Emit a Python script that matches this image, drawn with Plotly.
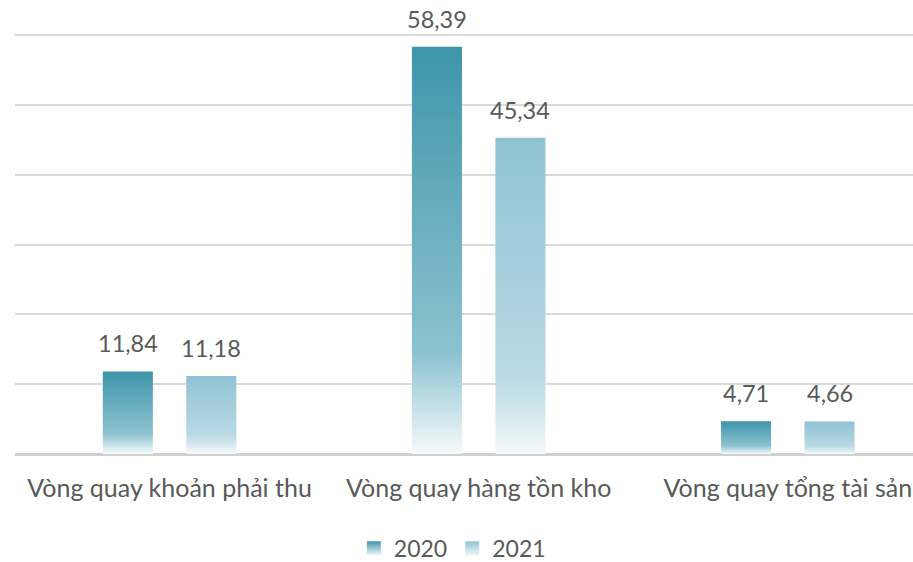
import plotly.graph_objects as go

categories = ["Vòng quay khoản phải thu", "Vòng quay hàng tồn kho", "Vòng quay tổng tài sản"]
years = ["2020", "2021"]
values_2020 = [11.84, 58.39, 4.71]
values_2021 = [11.18, 45.34, 4.66]

series = [
    (years[0], values_2020, -0.135, "#3e95aa",
     [[0, "#f6fafc"], [0.12, "#c3dfe7"], [0.25, "#8cc2d0"], [1, "#3e95aa"]]),
    (years[1], values_2021, 0.135, "#8fc3d4",
     [[0, "#f6fafc"], [0.12, "#d6e9ef"], [0.25, "#b9d9e4"], [1, "#8fc3d4"]]),
]
half_width = 0.081
text_color = "#595959"
font_family = "Lato"

fig = go.Figure()

for name, vals, offset, top_color, scale in series:
    for i, v in enumerate(vals):
        x0, x1 = i + offset - half_width, i + offset + half_width
        fig.add_trace(go.Scatter(
            x=[x0, x1, x1, x0, x0], y=[0, 0, v, v, 0],
            mode="lines", fill="toself", line=dict(width=0),
            fillgradient=dict(type="vertical", colorscale=scale, start=0, stop=v),
            showlegend=False, hoverinfo="skip",
        ))
        fig.add_annotation(
            x=i + offset, y=v, text=f"{v:.2f}".replace(".", ","),
            showarrow=False, yanchor="bottom", yshift=12,
            font=dict(size=23.5, color=text_color, family=font_family),
        )
    fig.add_trace(go.Scatter(
        x=[None], y=[None], mode="markers", name=name,
        marker=dict(symbol="square", size=14, color=top_color,
                    gradient=dict(type="vertical", color="#eef6f9")),
    ))

fig.update_layout(
    width=913, height=562,
    margin=dict(l=15, r=0, t=34, b=108, autoexpand=False),
    paper_bgcolor="white", plot_bgcolor="white",
    font=dict(family=font_family, color=text_color),
    legend=dict(orientation="h", x=0.487, xanchor="center", y=-0.2243, yanchor="middle",
                font=dict(size=23, color=text_color, family=font_family),
                itemwidth=30, tracegroupgap=0),
    xaxis=dict(range=[-0.5, 2.405], tickvals=[0, 1, 2], ticktext=categories,
               tickfont=dict(size=25, color=text_color, family=font_family),
               showgrid=False, zeroline=False, showline=False, automargin=False,
               ticks="", ticklabelstandoff=17, fixedrange=True),
    yaxis=dict(range=[0, 60.2], tickvals=[10, 20, 30, 40, 50, 60], showticklabels=False,
               showgrid=True, gridcolor="#d9d9d9", gridwidth=2, automargin=False,
               zeroline=True, zerolinecolor="#d0d0d0", zerolinewidth=2.5,
               showline=False, ticks="", fixedrange=True),
)

fig.write_html("out.html")
